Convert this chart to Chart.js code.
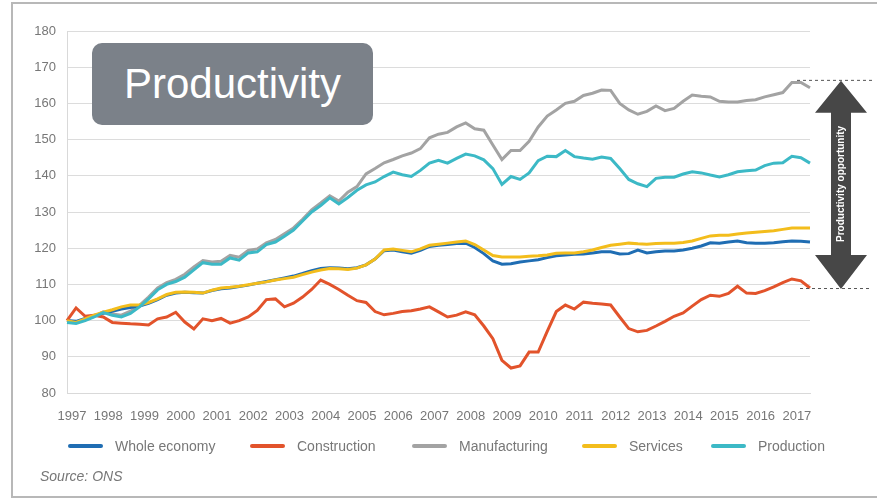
<!DOCTYPE html>
<html>
<head>
<meta charset="utf-8">
<script src="https://cdn.jsdelivr.net/npm/chart.js@4.4.0/dist/chart.umd.min.js"></script>
<style>
  html, body { margin: 0; padding: 0; background: #fff; }
  #wrap { position: relative; width: 877px; height: 502px; overflow: hidden; font-family: "Liberation Sans", Arial, sans-serif; }
  #frame { position: absolute; left: 11px; top: 2px; width: 900px; height: 492px; border: 2px solid #b8b8b8; border-right: none; }
  canvas { position: absolute; left: 0; top: 0; }
  #badge { position: absolute; left: 92px; top: 43px; width: 281px; height: 82px; background: #7b8189; border-radius: 10px;
           color: #fff; font-size: 42px; line-height: 82px; text-align: center; }
  .key { position: absolute; top: 444px; width: 35px; height: 4px; border-radius: 2px; }
  .lbl { position: absolute; top: 437px; font-size: 14px; line-height: 18px; color: #777; white-space: nowrap; }
  #source { position: absolute; left: 40px; top: 468px; font-size: 14px; font-style: italic; color: #777; }
</style>
</head>
<body>
<div id="wrap">
  <div id="frame"></div>
  <canvas id="chart" width="877" height="502"></canvas>
  <div id="badge">Productivity</div>
  <div id="legend"></div>
  <div id="source">Source: ONS</div>
</div>
<script>
// quarterly index, 1997 Q1 = 100, 1997 Q1 .. 2017 Q3
var years = [1997, 1998, 1999, 2000, 2001, 2002, 2003, 2004, 2005, 2006, 2007,
             2008, 2009, 2010, 2011, 2012, 2013, 2014, 2015, 2016, 2017];
var quarters = [];
years.forEach(function (y) {
  [1, 2, 3, 4].forEach(function (q) {
    if (y < 2017 || q <= 3) quarters.push(y + " Q" + q);
  });
});

var wholeEconomy = [100, 99.8, 100.6, 101.4, 102, 102.6, 103.2, 103.6, 104, 104.8, 105.8, 107, 107.6, 107.8, 107.7, 107.6,
  108.3, 108.8, 109, 109.4, 109.8, 110.3, 110.8, 111.3, 111.8, 112.3, 113, 113.8, 114.4, 114.6, 114.5, 114.3,
  114.6, 115.4, 117, 119.3, 119.5, 119, 118.6, 119.4, 120.5, 120.8, 121, 121.3, 121.4, 120.2, 118.5, 116.5,
  115.6, 115.7, 116.2, 116.5, 116.8, 117.4, 117.9, 118.1, 118.3, 118.4, 118.7, 119, 119, 118.4, 118.5, 119.5,
  118.7, 119, 119.2, 119.2, 119.5, 120, 120.6, 121.5, 121.4, 121.7, 122, 121.5, 121.4, 121.4, 121.5, 121.8,
  122, 121.9, 121.7];

var construction = [100, 103.5, 101.2, 101.5, 101, 99.5, 99.3, 99.1, 99, 98.8, 100.5, 101, 102.3, 99.6, 97.7, 100.5,
  100, 100.6, 99.3, 100, 101, 102.8, 105.8, 106, 103.8, 104.8, 106.5, 108.6, 111.2, 110, 108.6, 107,
  105.5, 105, 102.5, 101.6, 102, 102.5, 102.7, 103.2, 103.8, 102.4, 101, 101.5, 102.4, 101.6, 98.5, 95,
  89, 86.9, 87.5, 91.3, 91.3, 97, 102.5, 104.3, 103.2, 105.1, 104.8, 104.6, 104.3, 101, 97.8, 96.9,
  97.3, 98.5, 99.8, 101.2, 102.1, 104, 105.8, 107, 106.7, 107.5, 109.5, 107.6, 107.5, 108.3, 109.3, 110.5,
  111.5, 111, 109];

var manufacturing = [100, 99.5, 100.2, 101.2, 102.4, 101.8, 101.5, 102.6, 104.2, 106.5, 109, 110.5, 111.4, 112.8, 114.8, 116.6,
  116.2, 116.4, 118, 117.5, 119.4, 119.8, 121.5, 122.4, 124, 125.6, 128, 130.6, 132.5, 134.5, 133, 135.5,
  137, 140.5, 142, 143.6, 144.5, 145.5, 146.3, 147.5, 150.5, 151.5, 152, 153.5, 154.6, 153, 152.6, 148.5,
  144.5, 147, 147, 149.5, 153.5, 156.5, 158.2, 160, 160.6, 162.2, 162.8, 163.7, 163.6, 160, 158.2, 157,
  157.8, 159.3, 158, 158.6, 160.6, 162.3, 162, 161.8, 160.6, 160.4, 160.4, 160.8, 161, 161.8, 162.4, 163,
  165.8, 165.8, 164.3];

var services = [100, 99.5, 100.5, 101.5, 102.3, 103, 103.8, 104.3, 104.3, 105, 106, 107.2, 107.8, 107.9, 107.8, 107.6,
  108.4, 109, 109.2, 109.5, 109.9, 110.3, 110.7, 111.2, 111.6, 112, 112.7, 113.4, 114, 114.4, 114.3, 114.1,
  114.5, 115.4, 117, 119.5, 119.8, 119.4, 119, 119.8, 120.8, 121.1, 121.4, 121.7, 122, 121, 119.5, 118,
  117.6, 117.6, 117.6, 117.8, 117.9, 118.1, 118.6, 118.7, 118.7, 119, 119.5, 120.2, 120.8, 121.1, 121.4, 121.2,
  121.1, 121.3, 121.4, 121.4, 121.6, 122, 122.7, 123.4, 123.6, 123.6, 123.9, 124.2, 124.4, 124.6, 124.8, 125.2,
  125.6, 125.6, 125.6];

var production = [99.5, 99.2, 100, 101, 102.2, 101.5, 101, 102, 103.8, 106, 108.5, 110, 110.8, 112, 114, 116,
  115.6, 115.6, 117.3, 116.7, 118.7, 119, 121, 121.7, 123.3, 125, 127.5, 130, 131.8, 133.9, 132.2, 134,
  136, 137.5, 138.3, 139.8, 141, 140.3, 139.8, 141.5, 143.5, 144.3, 143.5, 144.8, 146, 145.5, 144.4, 142,
  137.6, 139.8, 139, 140.8, 144.2, 145.4, 145.3, 147, 145.3, 144.9, 144.6, 145.2, 144.8, 142, 139, 137.8,
  137, 139.3, 139.6, 139.6, 140.5, 141.1, 140.8, 140.2, 139.7, 140.3, 141.1, 141.4, 141.6, 142.8, 143.5, 143.6,
  145.4, 145, 143.5];

var seriesNames = ["Whole economy", "Construction", "Manufacturing", "Services", "Production"];
var seriesColors = ["#1f6db3", "#e2532b", "#a3a3a3", "#f3bd1c", "#3cb9c6"];
var seriesData = [wholeEconomy, construction, manufacturing, services, production];
var drawOrder = [3, 2, 4, 1, 0];

// the gap marked by the arrow on the right
var opportunityTop = 166.5;
var opportunityBottom = 109;

var yTicks = { min: 80, max: 180, step: 10 };

var opportunityArrow = {
  id: "opportunityArrow",
  afterDraw: function (chart) {
    var ctx = chart.ctx;
    var y = chart.scales.y;
    var y1 = y.getPixelForValue(opportunityTop);
    var y2 = y.getPixelForValue(opportunityBottom);
    var cx = 841;
    ctx.save();
    ctx.strokeStyle = "#555";
    ctx.lineWidth = 1;
    ctx.setLineDash([3, 3]);
    ctx.beginPath();
    ctx.moveTo(797, y1 + 0.5); ctx.lineTo(872, y1 + 0.5);
    ctx.moveTo(800, y2 + 0.5); ctx.lineTo(872, y2 + 0.5);
    ctx.stroke();
    ctx.setLineDash([]);

    var head = 33, hw = 26, sw = 10;
    ctx.fillStyle = "#474747";
    ctx.beginPath();
    ctx.moveTo(cx, y1 + 1);
    ctx.lineTo(cx + hw, y1 + head);
    ctx.lineTo(cx + sw, y1 + head);
    ctx.lineTo(cx + sw, y2 - head);
    ctx.lineTo(cx + hw, y2 - head);
    ctx.lineTo(cx, y2 + 1);
    ctx.lineTo(cx - hw, y2 - head);
    ctx.lineTo(cx - sw, y2 - head);
    ctx.lineTo(cx - sw, y1 + head);
    ctx.lineTo(cx - hw, y1 + head);
    ctx.closePath();
    ctx.fill();

    ctx.translate(cx, (y1 + y2) / 2);
    ctx.rotate(-Math.PI / 2);
    ctx.fillStyle = "#fff";
    ctx.font = "bold 10px 'Liberation Sans', Arial, sans-serif";
    ctx.textAlign = "center";
    ctx.textBaseline = "middle";
    ctx.fillText("Productivity opportunity", 0, 0);
    ctx.restore();
  }
};

Chart.defaults.font.family = "'Liberation Sans', Arial, sans-serif";

var chart = new Chart(document.getElementById("chart"), {
  type: "line",
  data: {
    labels: quarters,
    datasets: seriesNames.map(function (name, i) {
      return {
        label: name,
        data: seriesData[i],
        borderColor: seriesColors[i],
        backgroundColor: seriesColors[i],
        borderWidth: 3,
        pointRadius: 0,
        tension: 0,
        order: drawOrder[i]
      };
    })
  },
  options: {
    responsive: false,
    animation: false,
    layout: { padding: { top: 31, right: 67, left: 0, bottom: 0 } },
    plugins: { legend: { display: false }, tooltip: { enabled: false } },
    scales: {
      x: {
        grid: { display: false },
        border: { display: true, color: "#d9d9d9" },
        ticks: {
          autoSkip: false, maxRotation: 0, minRotation: 0,
          labelOffset: 5, padding: 8, color: "#777", font: { size: 13 },
          callback: function (v, i) { return i % 4 === 0 ? quarters[i].slice(0, 4) : null; }
        },
        afterFit: function (s) { s.height = 109; }
      },
      y: {
        min: yTicks.min, max: yTicks.max,
        ticks: { stepSize: yTicks.step, padding: 11, color: "#777", font: { size: 13 } },
        grid: { color: "#dcdcdc", drawTicks: false },
        border: { display: true, color: "#d9d9d9" },
        afterFit: function (s) { s.width = 67; }
      }
    }
  },
  plugins: [opportunityArrow]
});

// legend below the chart
var legendLeft = [68, 250, 412, 582, 711];
var legend = document.getElementById("legend");
seriesNames.forEach(function (name, i) {
  var k = document.createElement("div");
  k.className = "key";
  k.style.left = legendLeft[i] + "px";
  k.style.background = seriesColors[i];
  legend.appendChild(k);
  var t = document.createElement("div");
  t.className = "lbl";
  t.style.left = (legendLeft[i] + 47) + "px";
  t.textContent = name;
  legend.appendChild(t);
});
</script>
</body>
</html>
